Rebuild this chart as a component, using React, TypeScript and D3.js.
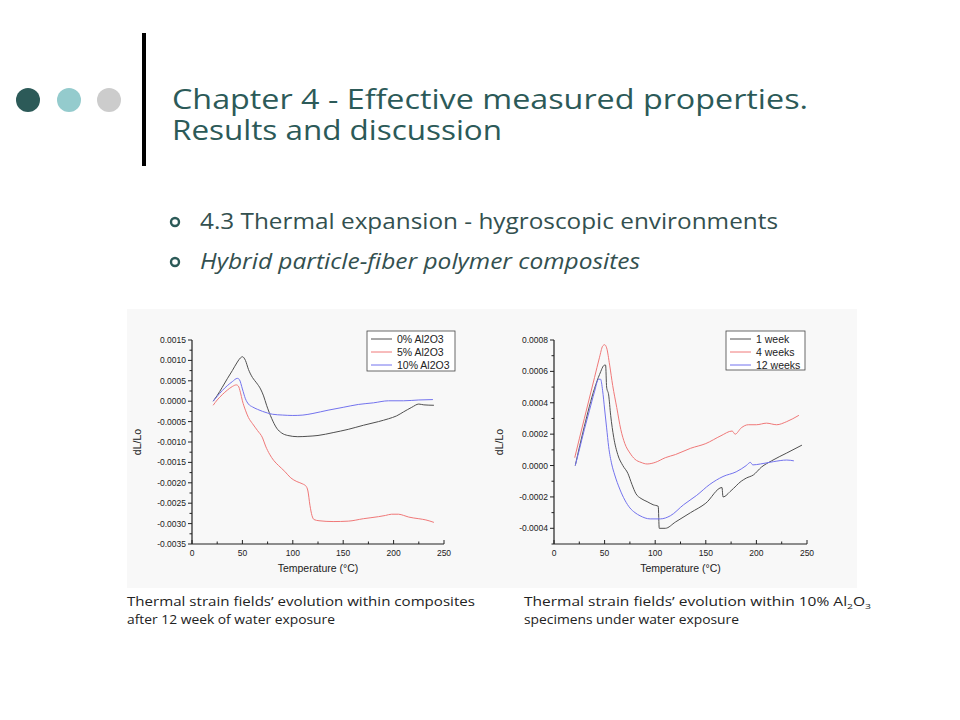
import React from 'react';
import * as d3 from 'd3';

// ---- data ----
const tempA0 = [21, 25, 30, 35, 40, 45, 48, 50, 53, 56, 60, 64, 68, 71, 74, 79, 84, 89, 95, 105, 115, 125, 140, 155, 170, 185, 195, 203, 210, 218, 225, 230, 240];
const valA0 = [0, 0.00014, 0.00034, 0.00055, 0.00075, 0.00096, 0.00106, 0.00109, 0.001, 0.00078, 0.00058, 0.00045, 0.0003, 0.00013, -0.0001, -0.00042, -0.00066, -0.00078, -0.00084, -0.00087, -0.00086, -0.00084, -0.00077, -0.00069, -0.00059, -0.0005, -0.00043, -0.00036, -0.00026, -0.00015, -0.00007, -0.00009, -0.0001];

const tempA5 = [21, 25, 30, 35, 40, 44, 46, 48, 50, 53, 56, 60, 65, 70, 73, 77, 81, 86, 92, 98, 104, 110, 113, 115, 117, 119, 121, 126, 140, 155, 170, 185, 192, 198, 205, 210, 215, 225, 232, 240];
const valA5 = [-0.0001, 0.00003, 0.00016, 0.00027, 0.00036, 0.0004, 0.00037, 0.00022, 0.00001, -0.00022, -0.0004, -0.00055, -0.00072, -0.0009, -0.0011, -0.0013, -0.00145, -0.00158, -0.00172, -0.00188, -0.00197, -0.00203, -0.00208, -0.0022, -0.00255, -0.0028, -0.0029, -0.00293, -0.00295, -0.00294, -0.00288, -0.00283, -0.0028, -0.00277, -0.00277, -0.0028, -0.00284, -0.00288, -0.00291, -0.00297];

const tempA10 = [21, 25, 30, 35, 40, 45, 47, 50, 53, 56, 60, 65, 70, 75, 80, 90, 100, 110, 120, 135, 150, 165, 180, 195, 210, 225, 239];
const valA10 = [0, 0.00012, 0.00026, 0.00038, 0.00048, 0.00056, 0.00053, 0.0003, 0.00006, -0.00007, -0.00014, -0.0002, -0.00025, -0.00029, -0.00032, -0.00034, -0.00035, -0.00034, -0.0003, -0.00022, -0.00015, -0.00008, -0.00004, 0.00001, 0.00001, 0.00003, 0.00004];

const tempW1 = [21, 30, 40, 45, 50, 51, 52, 54, 56, 59, 63, 68, 73, 77, 81, 86, 92, 98, 103, 104, 110, 120, 135, 150, 166, 167, 175, 185, 190, 197, 205, 215, 230, 245];
const valW1 = [0, 0.00025, 0.00049, 0.00058, 0.00064, 0.00064, 0.0005, 0.00045, 0.00032, 0.00018, 0.00007, 0, -0.00005, -0.00012, -0.00018, -0.00021, -0.00023, -0.00025, -0.00026, -0.0004, -0.0004, -0.00036, -0.0003, -0.00024, -0.00014, -0.0002, -0.00016, -0.0001, -0.00008, -0.00006, -0.00001, 0.00003, 0.00008, 0.00013];

const tempW4 = [20.5, 25, 30, 35, 40, 45, 48, 50, 52, 55, 58, 62, 66, 70, 75, 80, 86, 92, 100, 110, 120, 135, 150, 165, 176, 179, 185, 192, 200, 210, 220, 230, 242];
const valW4 = [0.00005, 0.00017, 0.0003, 0.00043, 0.00056, 0.00069, 0.00076, 0.00077, 0.00075, 0.00064, 0.00051, 0.00037, 0.00023, 0.00014, 0.00008, 0.00004, 0.00002, 0.00001, 0.00002, 0.00005, 0.00007, 0.00011, 0.00014, 0.00019, 0.00022, 0.0002, 0.00024, 0.00026, 0.00026, 0.00027, 0.00026, 0.00028, 0.00032];

const tempW12 = [21, 25, 30, 35, 40, 44, 46, 48, 50, 52, 54, 57, 60, 65, 70, 75, 80, 85, 95, 105, 115, 128, 141, 154, 167, 180, 190, 194, 196.5, 204, 217, 230, 237];
const valW12 = [0, 0.0001, 0.00023, 0.00035, 0.00047, 0.00055, 0.00055, 0.00048, 0.00036, 0.00024, 0.00012, 0.00001, -0.00006, -0.00015, -0.00022, -0.00027, -0.0003, -0.00032, -0.00034, -0.00034, -0.00032, -0.00025, -0.00019, -0.00012, -0.00007, -0.00004, 0, 0.00002, 0.000004, 0.00001, 0.000025, 0.000035, 0.00003];

const xTicks = [0, 50, 100, 150, 200, 250];
const xMinor = [25, 75, 125, 175, 225];
const yTicksA = [0.0015, 0.001, 0.0005, 0, -0.0005, -0.001, -0.0015, -0.002, -0.0025, -0.003, -0.0035];
const yTicksW = [0.0008, 0.0006, 0.0004, 0.0002, 0, -0.0002, -0.0004];

const legendA = ['0% Al2O3', '5% Al2O3', '10% Al2O3'];
const legendW = ['1 week', '4 weeks', '12 weeks'];
const lineColors = ['#505050', '#f07878', '#7373ee'];

const TEAL = '#2c5a58';
const TEXT = '#33504f';
const SLIDE_FONT = '"Open Sans", sans-serif';

type Series = { t: number[]; v: number[] };

function Panel(props: {
  x0: number; x1: number; yTop: number; yBot: number;
  yDomain: [number, number]; yTicks: number[]; yStep: number;
  series: Series[]; legend: string[]; legendBox: [number, number, number, number];
}) {
  const { x0, x1, yTop, yBot, yDomain, yTicks, yStep, series, legend, legendBox } = props;
  const x = d3.scaleLinear().domain([0, 250]).range([x0, x1]);
  const y = d3.scaleLinear().domain(yDomain).range([yBot, yTop]);
  const line = d3.line<[number, number]>()
    .x(d => x(d[0]))
    .y(d => y(d[1]))
    .curve(d3.curveMonotoneX);
  const font = 'Liberation Sans, Arial, sans-serif';
  const yMinor = d3.range(yDomain[0], yDomain[1] + 1e-9, yStep / 2)
    .filter(v => !yTicks.some(t => Math.abs(t - v) < 1e-9));
  const [lx, ly, lw, lh] = legendBox;
  return (
    <g>
      {series.map((s, i) => (
        <path key={i} d={line(s.t.map((t, j) => [t, s.v[j]] as [number, number])) || ''}
          fill="none" stroke={lineColors[i]} strokeWidth={1} />
      ))}
      {/* axes */}
      <line x1={x0} x2={x0} y1={yTop} y2={yBot} stroke="#222" strokeWidth={1.2} />
      <line x1={x0} x2={x1} y1={yBot} y2={yBot} stroke="#222" strokeWidth={1.2} />
      {yTicks.map(v => (
        <g key={v}>
          <line x1={x0 - 4} x2={x0} y1={y(v)} y2={y(v)} stroke="#222" />
          <text x={x0 - 6} y={y(v)} dy="0.35em" textAnchor="end" fontFamily={font} fontSize={8.5} fill="#222">
            {v.toFixed(4)}
          </text>
        </g>
      ))}
      {yMinor.map(v => (
        <line key={v} x1={x0 - 2.5} x2={x0} y1={y(v)} y2={y(v)} stroke="#222" />
      ))}
      {xTicks.map(t => (
        <g key={t}>
          <line x1={x(t)} x2={x(t)} y1={yBot} y2={yBot - 4} stroke="#222" />
          <text x={x(t)} y={yBot + 12} textAnchor="middle" fontFamily={font} fontSize={8.5} fill="#222">{t}</text>
        </g>
      ))}
      {xMinor.map(t => (
        <line key={t} x1={x(t)} x2={x(t)} y1={yBot} y2={yBot - 2.5} stroke="#222" />
      ))}
      <text x={(x0 + x1) / 2} y={yBot + 28} textAnchor="middle" fontFamily={font} fontSize={10.5} fill="#222">
        Temperature (°C)
      </text>
      <text transform={`translate(${x0 - 51},${(yTop + yBot) / 2}) rotate(-90)`} textAnchor="middle"
        fontFamily={font} fontSize={10.5} fill="#222">dL/Lo</text>
      {/* legend */}
      <rect x={lx} y={ly} width={lw} height={lh} fill="#fff" stroke="#444" strokeWidth={0.8} />
      {legend.map((name, i) => (
        <g key={name}>
          <line x1={lx + 4} x2={lx + 25} y1={ly + 8 + i * 13} y2={ly + 8 + i * 13} stroke={lineColors[i]} />
          <text x={lx + 30} y={ly + 8 + i * 13} dy="0.36em" fontFamily={font} fontSize={10.5} fill="#222">{name}</text>
        </g>
      ))}
    </g>
  );
}

export default function App() {
  return (
    <svg width={960} height={720} style={{ position: 'absolute', left: 0, top: 0, background: '#fff' }}>
      <circle cx={28} cy={100} r={12} fill={TEAL} />
      <circle cx={69} cy={100} r={12} fill="#94cbcd" />
      <circle cx={109} cy={100} r={12} fill="#cccccc" />
      <rect x={142} y={33} width={4} height={133} fill="#000" />
      <text x={172} y={109} fontFamily={SLIDE_FONT} fontSize={27} fill={TEAL}
        textLength={636} lengthAdjust="spacingAndGlyphs">
        Chapter 4 - Effective measured properties.
      </text>
      <text x={172} y={140} fontFamily={SLIDE_FONT} fontSize={27} fill={TEAL}
        textLength={330} lengthAdjust="spacingAndGlyphs">
        Results and discussion
      </text>

      <circle cx={175} cy={222} r={4} fill="none" stroke={TEAL} strokeWidth={2.4} />
      <circle cx={175} cy={262} r={4} fill="none" stroke={TEAL} strokeWidth={2.4} />
      <text x={200} y={229} fontFamily={SLIDE_FONT} fontSize={21} fill={TEXT}
        textLength={578} lengthAdjust="spacingAndGlyphs">
        4.3 Thermal expansion - hygroscopic environments
      </text>
      <text x={200} y={269} fontFamily={SLIDE_FONT} fontSize={21} fontStyle="italic" fill={TEXT}
        textLength={440} lengthAdjust="spacingAndGlyphs">
        Hybrid particle-fiber polymer composites
      </text>

      <rect x={127} y={309} width={363} height={279} fill="#f8f8f8" />
      <rect x={490} y={309} width={367} height={279} fill="#f8f8f8" />

      <Panel x0={192} x1={444} yTop={340} yBot={544} yDomain={[-0.0035, 0.0015]} yTicks={yTicksA} yStep={0.0005}
        series={[{ t: tempA0, v: valA0 }, { t: tempA5, v: valA5 }, { t: tempA10, v: valA10 }]}
        legend={legendA} legendBox={[367, 331, 88, 40]} />
      <Panel x0={554} x1={807} yTop={340} yBot={544} yDomain={[-0.0005, 0.0008]} yTicks={yTicksW} yStep={0.0002}
        series={[{ t: tempW1, v: valW1 }, { t: tempW4, v: valW4 }, { t: tempW12, v: valW12 }]}
        legend={legendW} legendBox={[726, 331, 79, 39]} />

      <g fontFamily={SLIDE_FONT} fontSize={12} fill="#222">
        <text x={127} y={606} textLength={348} lengthAdjust="spacingAndGlyphs">Thermal strain fields’ evolution within composites</text>
        <text x={127} y={624} textLength={208} lengthAdjust="spacingAndGlyphs">after 12 week of water exposure</text>
        <text x={524} y={606} textLength={347} lengthAdjust="spacingAndGlyphs">
          Thermal strain fields’ evolution within 10% Al<tspan fontSize={8} dy={3}>2</tspan><tspan dy={-3}>O</tspan><tspan fontSize={8} dy={3}>3</tspan>
        </text>
        <text x={524} y={624} textLength={215} lengthAdjust="spacingAndGlyphs">specimens under water exposure</text>
      </g>
    </svg>
  );
}
